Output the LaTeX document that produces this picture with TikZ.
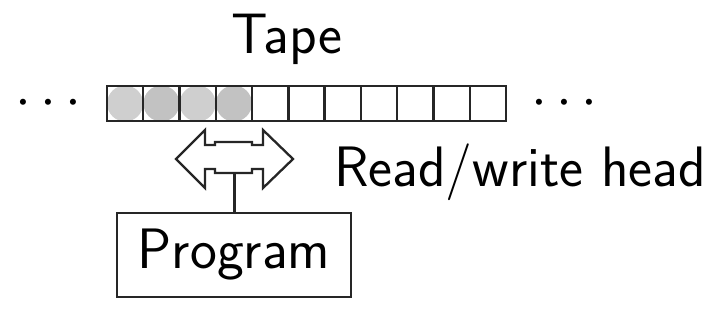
\RequirePackage{fix-cm}
\documentclass[tikz,border=0pt]{standalone}
\usepackage{fontspec}
\usepackage{tikz}
\usetikzlibrary{positioning,calc}

\begin{document}
\begin{tikzpicture}[
  x=1pt, y=-1pt,
  font=\sffamily\fontsize{57}{65}\selectfont,
  % Node styles
  cell/.style={rectangle, draw=black!85, line width=2.3pt, minimum width=36.3pt, minimum height=35pt, inner sep=0pt},
  symbol/.style={circle, fill=gray!38, minimum size=36pt, inner sep=0pt},
  symbolb/.style={symbol, fill=gray!48},
  program/.style={rectangle, draw=black!85, line width=2.3pt, minimum width=234pt, minimum height=84pt, inner sep=0pt},
  label/.style={inner sep=0pt},
  link/.style={line width=2.3pt, color=black!85}
]
  \useasboundingbox (0,0) rectangle (714,311);

  % ============================================
  % Tape: symbols first, then the cells
  % ============================================
  \foreach \i in {1,3} {
    \node[symbol] (sym\i) at ({107+36.27*(\i-0.5)},103.5) {};
  }
  \foreach \i in {2,4} {
    \node[symbolb] (sym\i) at ({107+36.27*(\i-0.5)},103.5) {};
  }
  \foreach \i in {1,...,11} {
    \node[cell] (cell\i) at ({107+36.27*(\i-0.5)},103.5) {};
  }

  \node[label, anchor=base] (tape) at (287,53) {Tape};
  \node[label, left=24pt of cell1] (dotsl) {$\cdots$};
  \node[label, right=24pt of cell11] (dotsr) {$\cdots$};

  % ============================================
  % Read/write head
  % ============================================
  \draw[link, line join=miter, fill=white]
    (176,159) -- (205,130) -- (205,145) -- (215,145) -- (215,142) -- (252,142)
    -- (252,145) -- (263,145) -- (263,130) -- (293,159) -- (263,188) -- (263,169)
    -- (252,169) -- (252,173) -- (215,173) -- (215,169) -- (205,169) -- (205,188) -- cycle;
  \coordinate (head) at (234.5,173);
  \node[label, anchor=base west] (headlabel) at (334,186) {Read/write head};

  % ============================================
  % Program
  % ============================================
  \node[program] (prog) at (234,255) {Program};
  \draw[link] (head) -- (prog.north -| head);

\end{tikzpicture}
\end{document}
